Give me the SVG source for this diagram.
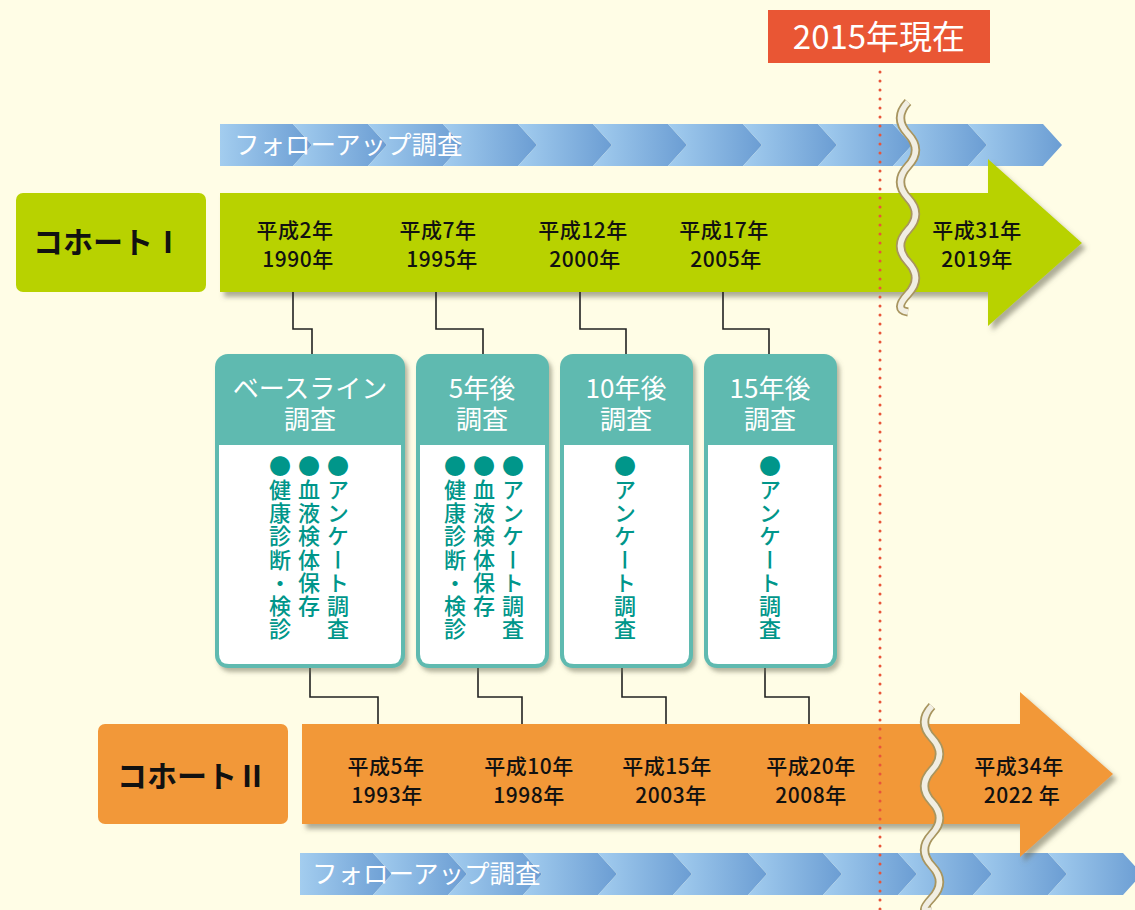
<svg xmlns="http://www.w3.org/2000/svg" width="1135" height="910" viewBox="0 0 1135 910">
<defs>
<linearGradient id="chev" x1="0" y1="0" x2="1" y2="0">
<stop offset="0" stop-color="#a3cdef"/>
<stop offset="1" stop-color="#6b9dd3"/>
</linearGradient>
<filter id="sh" x="-10%" y="-10%" width="130%" height="130%">
<feDropShadow dx="4" dy="5" stdDeviation="2.5" flood-color="#6b6b55" flood-opacity="0.55"/>
</filter>
<filter id="bsh" x="-10%" y="-10%" width="130%" height="130%">
<feDropShadow dx="3" dy="4" stdDeviation="2" flood-color="#6b6b55" flood-opacity="0.5"/>
</filter>
<style>
text{font-family:"Noto Sans CJK JP","Noto Sans",sans-serif;}
.chev{fill:url(#chev);}
.fu{fill:#fff;font-size:25.5px;}
.yr{fill:#111;font-size:21px;font-weight:500;text-anchor:middle;letter-spacing:0.5px;}
.lab{fill:#111;font-size:30px;font-weight:700;text-anchor:middle;}
.hd{fill:#fff;font-size:26px;text-anchor:middle;}
.vt{fill:#00968a;font-size:22px;font-weight:500;writing-mode:vertical-rl;letter-spacing:1.3px;}
.conn{fill:none;stroke:#222;stroke-width:1.6;}
.boxo{fill:#5fbab0;}
.boxi{fill:#fff;}
.wave1{fill:none;stroke:#a8955f;stroke-width:9;}
.wave2{fill:none;stroke:#f1eee2;stroke-width:5.5;}
</style>
</defs>
<rect width="1135" height="910" fill="#fffde6"/>

<!-- top follow-up bar -->
<g id="followup-top">
<polygon class="chev" points="220,124 293,124 312,145 293,166 220,166"/>
<polygon class="chev" points="293,124 368,124 387,145 368,166 293,166 312,145"/>
<polygon class="chev" points="368,124 443,124 462,145 443,166 368,166 387,145"/>
<polygon class="chev" points="443,124 518,124 537,145 518,166 443,166 462,145"/>
<polygon class="chev" points="518,124 593,124 612,145 593,166 518,166 537,145"/>
<polygon class="chev" points="593,124 668,124 687,145 668,166 593,166 612,145"/>
<polygon class="chev" points="668,124 743,124 762,145 743,166 668,166 687,145"/>
<polygon class="chev" points="743,124 818,124 837,145 818,166 743,166 762,145"/>
<polygon class="chev" points="818,124 893,124 912,145 893,166 818,166 837,145"/>
<polygon class="chev" points="893,124 968,124 987,145 968,166 893,166 912,145"/>
<polygon class="chev" points="968,124 1043,124 1062,145 1043,166 968,166 987,145"/>
<text class="fu" x="234" y="154">フォローアップ調査</text>
</g>

<!-- bottom follow-up bar -->
<g id="followup-bottom">
<polygon class="chev" points="300,853 373,853 392,874 373,895 300,895"/>
<polygon class="chev" points="373,853 448,853 467,874 448,895 373,895 392,874"/>
<polygon class="chev" points="448,853 523,853 542,874 523,895 448,895 467,874"/>
<polygon class="chev" points="523,853 598,853 617,874 598,895 523,895 542,874"/>
<polygon class="chev" points="598,853 673,853 692,874 673,895 598,895 617,874"/>
<polygon class="chev" points="673,853 748,853 767,874 748,895 673,895 692,874"/>
<polygon class="chev" points="748,853 823,853 842,874 823,895 748,895 767,874"/>
<polygon class="chev" points="823,853 898,853 917,874 898,895 823,895 842,874"/>
<polygon class="chev" points="898,853 973,853 992,874 973,895 898,895 917,874"/>
<polygon class="chev" points="973,853 1048,853 1067,874 1048,895 973,895 992,874"/>
<polygon class="chev" points="1048,853 1123,853 1142,874 1123,895 1048,895 1067,874"/>
<text class="fu" x="312" y="883">フォローアップ調査</text>
</g>

<!-- cohort I -->
<g id="cohort1-label">
<rect x="16" y="193" width="190" height="99" rx="7" fill="#b8d200"/>
<text class="lab" x="108" y="253">コホートⅠ</text>
</g>
<g id="cohort1-arrow">
<polygon points="220,193 988,193 988,159 1082,243 988,326 988,292 220,292" fill="#b8d200" filter="url(#sh)"/>
<text class="yr" x="295" y="238">平成2年</text>
<text class="yr" x="298" y="267">1990年</text>
<text class="yr" x="438" y="238">平成7年</text>
<text class="yr" x="442" y="267">1995年</text>
<text class="yr" x="583" y="238">平成12年</text>
<text class="yr" x="585" y="267">2000年</text>
<text class="yr" x="724" y="238">平成17年</text>
<text class="yr" x="726" y="267">2005年</text>
<text class="yr" x="977" y="238">平成31年</text>
<text class="yr" x="977" y="267">2019年</text>
</g>

<!-- cohort II -->
<g id="cohort2-label">
<rect x="98" y="724" width="190" height="100" rx="7" fill="#f29839"/>
<text class="lab" x="192" y="787">コホートⅡ</text>
</g>
<g id="cohort2-arrow">
<polygon points="302,724 1020,724 1020,692 1113,774 1020,857 1020,824 302,824" fill="#f29839" filter="url(#sh)"/>
<text class="yr" x="386" y="774">平成5年</text>
<text class="yr" x="387" y="803">1993年</text>
<text class="yr" x="529" y="774">平成10年</text>
<text class="yr" x="529" y="803">1998年</text>
<text class="yr" x="667" y="774">平成15年</text>
<text class="yr" x="671" y="803">2003年</text>
<text class="yr" x="811" y="774">平成20年</text>
<text class="yr" x="811" y="803">2008年</text>
<text class="yr" x="1019" y="774">平成34年</text>
<text class="yr" x="1022" y="803">2022 年</text>
</g>

<!-- connectors -->
<g id="connectors">
<polyline class="conn" points="293,292 293,329 312,329 312,354"/>
<polyline class="conn" points="436,292 436,329 483,329 483,354"/>
<polyline class="conn" points="580,292 580,329 626,329 626,354"/>
<polyline class="conn" points="723,292 723,329 769,329 769,354"/>
<polyline class="conn" points="310,668 310,697 378,697 378,724"/>
<polyline class="conn" points="478,668 478,697 522,697 522,724"/>
<polyline class="conn" points="622,668 622,697 666,697 666,724"/>
<polyline class="conn" points="765,668 765,697 809,697 809,724"/>
</g>

<!-- survey boxes -->
<g id="box-baseline">
<rect class="boxo" x="215" y="354" width="190" height="314" rx="13" filter="url(#bsh)"/>
<path class="boxi" d="M219 445 H401 V654 Q401 664 391 664 H229 Q219 664 219 654 Z"/>
<text class="hd" x="310" y="398">ベースライン<tspan x="310" dy="31">調査</tspan></text>
<text class="vt" x="338" y="455">●アンケート調査</text>
<text class="vt" x="309" y="455">●血液検体保存</text>
<text class="vt" x="280" y="455">●健康診断・検診</text>
</g>
<g id="box-5y">
<rect class="boxo" x="416" y="354" width="133" height="314" rx="13" filter="url(#bsh)"/>
<path class="boxi" d="M420 445 H545 V654 Q545 664 535 664 H430 Q420 664 420 654 Z"/>
<text class="hd" x="482" y="398">5年後<tspan x="482" dy="31">調査</tspan></text>
<text class="vt" x="513" y="455">●アンケート調査</text>
<text class="vt" x="484" y="455">●血液検体保存</text>
<text class="vt" x="455" y="455">●健康診断・検診</text>
</g>
<g id="box-10y">
<rect class="boxo" x="560" y="354" width="133" height="314" rx="13" filter="url(#bsh)"/>
<path class="boxi" d="M564 445 H689 V654 Q689 664 679 664 H574 Q564 664 564 654 Z"/>
<text class="hd" x="626" y="398">10年後<tspan x="626" dy="31">調査</tspan></text>
<text class="vt" x="625" y="455">●アンケート調査</text>
</g>
<g id="box-15y">
<rect class="boxo" x="704" y="354" width="133" height="314" rx="13" filter="url(#bsh)"/>
<path class="boxi" d="M708 445 H833 V654 Q833 664 823 664 H718 Q708 664 708 654 Z"/>
<text class="hd" x="770" y="398">15年後<tspan x="770" dy="31">調査</tspan></text>
<text class="vt" x="770" y="455">●アンケート調査</text>
</g>

<!-- now marker -->
<g id="now-marker">
<line x1="880" y1="72" x2="880" y2="910" stroke="#e8553a" stroke-width="3" stroke-linecap="round" stroke-dasharray="0 9"/>
<rect x="768" y="10" width="222" height="53" fill="#e95634"/>
<text x="879" y="49" fill="#fff" font-size="33" text-anchor="middle">2015年現在</text>
</g>

<!-- break marks -->
<g id="break-top">
<path class="wave1" d="M908 102 q-15 16 0 32 t0 32 t0 32 t0 32 t0 32 t0 32 t0 18"/>
<path class="wave2" d="M908 102 q-15 16 0 32 t0 32 t0 32 t0 32 t0 32 t0 32 t0 18"/>
</g>
<g id="break-bottom">
<path class="wave1" d="M932 706 q-15 16 0 32 t0 32 t0 32 t0 32 t0 32 t0 32 t0 12"/>
<path class="wave2" d="M932 706 q-15 16 0 32 t0 32 t0 32 t0 32 t0 32 t0 32 t0 12"/>
</g>
</svg>
